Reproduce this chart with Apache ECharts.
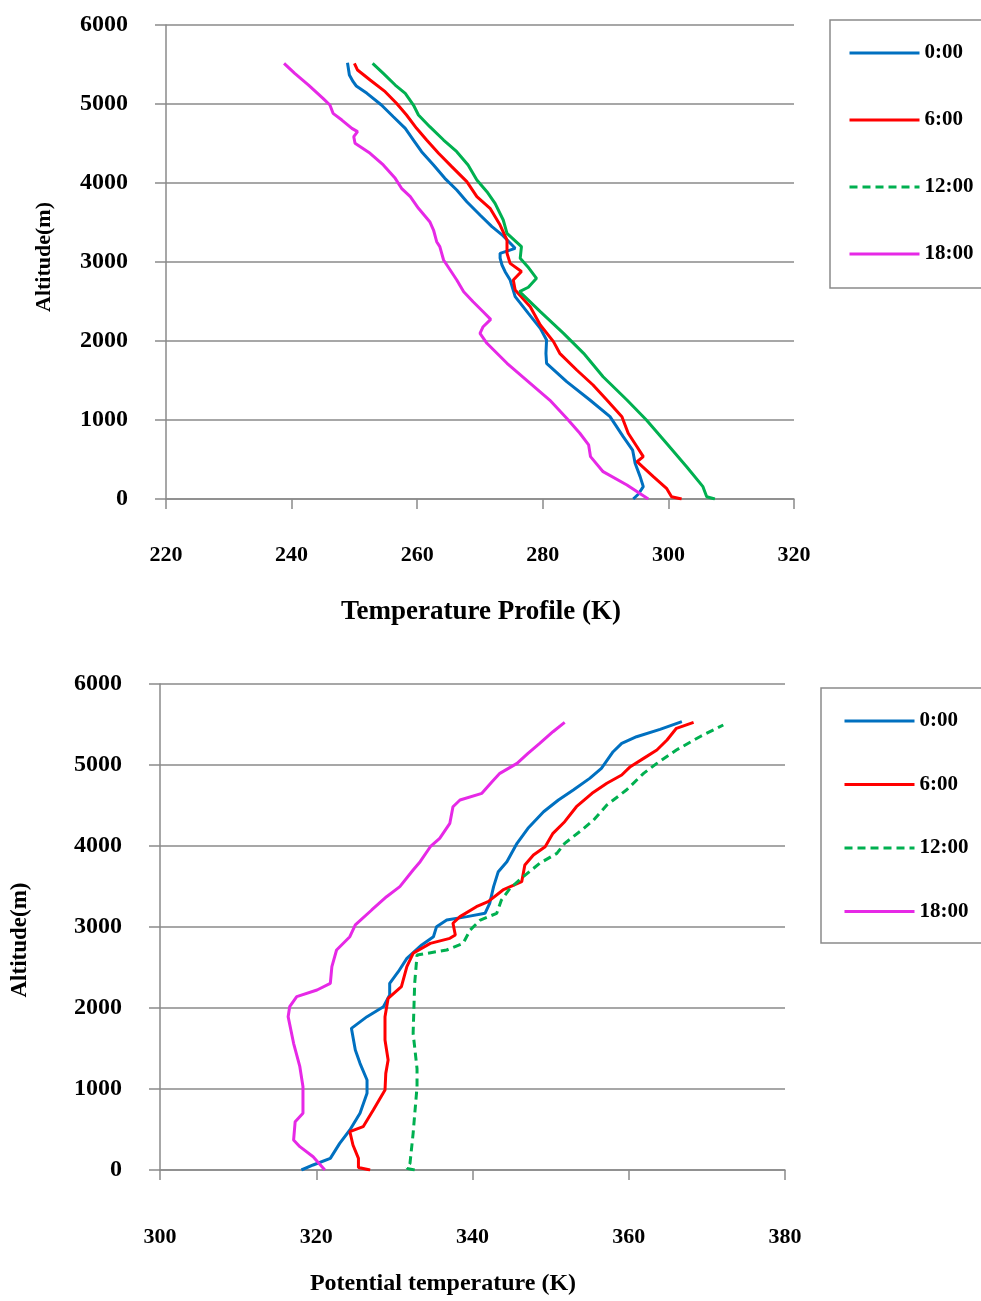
<!DOCTYPE html>
<html>
<head>
<meta charset="utf-8">
<title>Temperature and potential temperature profiles</title>
<script src="https://cdn.jsdelivr.net/npm/echarts@6/dist/echarts.min.js"></script>
<style>
  html, body { margin: 0; padding: 0; background: #fff; }
  #chart { width: 981px; height: 1301px; }
</style>
</head>
<body>
<div id="chart"></div>
<script>
// Profile times shown in both legends
const times = ['0:00', '6:00', '12:00', '18:00'];
const colors = ['#0070C0', '#FF0000', '#00B050', '#E629E6'];

// Axis ranges / tick labels
const altTicks = [0, 1000, 2000, 3000, 4000, 5000, 6000];
const tempTicks = [220, 240, 260, 280, 300, 320];
const thetaTicks = [300, 320, 340, 360, 380];

// Temperature profile, pairs of [T (K), altitude (m)]
const temp0000 = [[294.4,0],[295.2,60],[296.0,156],[295.5,283],[294.7,452],[294.3,620],[292.8,789],[290.7,1042],[287.5,1253],[283.8,1485],[280.6,1718],[280.5,1844],[280.6,2013],[279.6,2160],[277.7,2350],[275.6,2561],[274.8,2772],[274.0,2877],[273.5,2962],[273.2,3050],[273.2,3110],[275.6,3173],[273.7,3330],[271.9,3447],[270.0,3595],[267.9,3763],[266.3,3911],[264.4,4059],[262.6,4228],[260.7,4396],[259.4,4544],[258.1,4692],[256.2,4839],[254.3,4987],[252.0,5135],[250.3,5228],[249.8,5282],[249.2,5367],[248.9,5523]];
const temp0600 = [[302.1,0],[300.5,29],[299.7,135],[297.6,283],[295.0,472],[296.0,536],[295.0,662],[293.6,832],[292.6,1042],[290.2,1253],[288.0,1443],[285.4,1633],[282.7,1844],[281.7,1992],[279.6,2203],[278.0,2434],[275.6,2646],[275.3,2772],[276.6,2880],[274.8,2983],[274.3,3110],[274.3,3278],[273.2,3468],[271.6,3680],[269.5,3827],[267.9,4017],[265.5,4207],[263.4,4376],[261.5,4544],[259.9,4692],[258.3,4861],[256.7,5009],[254.9,5156],[252.5,5304],[250.5,5430],[250.0,5515]];
const temp1200 = [[307.4,0],[306.1,29],[305.5,156],[302.9,409],[299.7,705],[296.5,1000],[293.4,1253],[289.6,1548],[286.5,1844],[283.3,2097],[279.6,2371],[276.3,2624],[277.7,2680],[279.0,2793],[277.6,2941],[276.4,3046],[276.6,3194],[274.3,3363],[273.7,3532],[272.4,3743],[271.1,3890],[269.5,4038],[268.1,4228],[266.3,4396],[264.2,4544],[262.0,4713],[260.2,4861],[259.4,4987],[258.1,5135],[256.5,5240],[254.6,5388],[252.9,5515]];
const temp1800 = [[296.8,0],[293.4,177],[289.6,346],[287.6,536],[287.3,684],[285.9,832],[283.8,1021],[281.1,1253],[277.4,1506],[274.3,1718],[271.1,1971],[270.0,2097],[270.5,2181],[271.7,2274],[270.5,2371],[268.9,2497],[267.4,2624],[266.3,2772],[264.2,3025],[263.6,3194],[263.1,3257],[262.6,3405],[262.0,3510],[260.2,3680],[258.9,3827],[257.5,3933],[256.5,4059],[254.6,4228],[252.5,4376],[250.1,4502],[249.9,4586],[250.5,4650],[249.6,4692],[248.0,4797],[246.6,4882],[246.1,4987],[245.0,5072],[242.7,5240],[240.5,5388],[238.8,5515]];

// Potential temperature profile, pairs of [theta (K), altitude (m)]
const theta0000 = [[318.1,0],[319.6,62],[321.8,144],[323.0,329],[324.3,494],[325.6,700],[326.5,947],[326.5,1111],[325.6,1317],[325.0,1481],[324.5,1749],[326.5,1893],[328.6,2016],[329.4,2160],[329.4,2305],[330.5,2448],[331.6,2613],[333.5,2778],[335.0,2880],[335.4,3004],[336.7,3086],[339.3,3128],[341.6,3169],[342.2,3292],[342.7,3498],[343.3,3683],[344.4,3806],[345.7,4033],[347.1,4218],[349.1,4423],[351.0,4568],[352.9,4691],[355.0,4835],[356.5,4959],[358.0,5164],[359.1,5267],[361.0,5349],[364.0,5440],[366.8,5535]];
const theta0600 = [[326.9,0],[325.4,30],[325.4,144],[324.7,309],[324.3,473],[326.0,535],[327.3,741],[328.8,988],[328.9,1193],[329.2,1358],[328.8,1605],[328.8,1893],[329.2,2119],[330.9,2263],[331.6,2510],[332.4,2675],[334.6,2798],[337.1,2860],[337.8,2901],[337.5,3046],[338.4,3128],[340.5,3251],[342.0,3313],[343.9,3457],[346.3,3559],[346.7,3765],[347.8,3889],[349.3,3991],[350.3,4156],[351.8,4300],[353.3,4485],[355.3,4650],[357.2,4774],[359.1,4876],[360.2,4979],[361.9,5082],[363.6,5185],[364.9,5309],[366.1,5453],[368.3,5527]];
const theta1200 = [[332.6,0],[331.6,20],[332.0,83],[332.4,453],[332.9,1029],[332.9,1250],[332.4,1688],[332.6,2305],[332.9,2654],[336.7,2716],[338.8,2798],[339.7,2963],[341.0,3086],[343.1,3169],[343.7,3333],[344.8,3477],[346.5,3621],[348.6,3786],[350.8,3909],[351.8,4033],[354.0,4198],[355.5,4321],[357.2,4506],[359.7,4691],[361.9,4897],[363.6,5020],[366.1,5185],[369.1,5349],[372.1,5494]];
const theta1800 = [[321.1,0],[319.6,164],[317.9,288],[317.1,370],[317.3,596],[318.3,700],[318.3,1029],[317.9,1275],[317.1,1564],[316.4,1893],[316.6,2016],[317.5,2140],[320.1,2222],[321.8,2305],[322.0,2510],[322.6,2716],[324.3,2880],[325.0,3025],[327.1,3210],[329.0,3374],[330.7,3498],[332.4,3704],[333.3,3806],[334.6,3991],[335.8,4095],[337.1,4280],[337.5,4485],[338.4,4568],[341.2,4650],[342.5,4794],[343.5,4897],[345.7,5020],[347.1,5144],[348.6,5267],[350.3,5411],[351.8,5527]];

const FONT = '"Liberation Serif", "Times New Roman", serif';
const GRAY = '#8a8a8a';
const DASH = [8, 5];

function xAxisFor(gridIndex, ticks) {
  return {
    type: 'value', gridIndex,
    min: ticks[0], max: ticks[ticks.length - 1], interval: ticks[1] - ticks[0],
    axisLine: { show: true, onZero: false, lineStyle: { color: GRAY, width: 1.5 } },
    axisTick: { show: true, inside: false, length: 10, lineStyle: { color: GRAY, width: 1.5 } },
    axisLabel: { color: '#000', fontFamily: FONT, fontWeight: 'bold', fontSize: 22, margin: gridIndex === 0 ? 45 : 56,
                 formatter: v => String(v) },
    splitLine: { show: false }
  };
}
function yAxisFor(gridIndex) {
  return {
    type: 'value', gridIndex,
    min: altTicks[0], max: altTicks[altTicks.length - 1], interval: altTicks[1] - altTicks[0],
    axisLine: { show: true, onZero: false, lineStyle: { color: GRAY, width: 1.5 } },
    axisTick: { show: true, inside: false, length: 11, lineStyle: { color: GRAY, width: 1.5 } },
    axisLabel: { color: '#000', fontFamily: FONT, fontWeight: 'bold', fontSize: 24, margin: 38,
                 formatter: v => String(v) },
    splitLine: { show: true, lineStyle: { color: GRAY, width: 1.5 } }
  };
}
function lineSeries(name, data, idx, dashed) {
  return {
    name, type: 'line', data,
    xAxisIndex: idx, yAxisIndex: idx,
    symbol: 'none', showSymbol: false, smooth: false, animation: false,
    lineStyle: { color: colors[times.indexOf(name)], width: 3, type: dashed ? DASH : 'solid' },
    itemStyle: { color: colors[times.indexOf(name)] }
  };
}
function legendFor(left, top, gap, pad) {
  return {
    orient: 'vertical', left, top,
    padding: pad,
    itemWidth: 70, itemHeight: 14, itemGap: gap,
    borderColor: GRAY, borderWidth: 1.5,
    selectedMode: false,
    textStyle: { color: '#000', fontFamily: FONT, fontWeight: 'bold', fontSize: 21 },
    data: times.map((t, i) => ({
      name: t,
      // plain line key, no marker dot
      itemStyle: { color: 'rgba(0,0,0,0)', borderColor: 'rgba(0,0,0,0)', borderWidth: 0, opacity: 0 },
      lineStyle: { color: colors[i], width: 3, type: t === '12:00' ? DASH : 'solid' }
    }))
  };
}

const chart = echarts.init(document.getElementById('chart'), null, { renderer: 'canvas' });
chart.setOption({
  backgroundColor: '#fff',
  animation: false,
  grid: [
    { left: 166, top: 25, width: 628, height: 474 },
    { left: 160, top: 684, width: 625, height: 486 }
  ],
  xAxis: [xAxisFor(0, tempTicks), xAxisFor(1, thetaTicks)],
  yAxis: [yAxisFor(0), yAxisFor(1)],
  legend: [
    legendFor(830, 20, 46, [22.5, 70, 23.5, 18]),
    legendFor(821, 688, 42.5, [22.5, 70, 21, 22])
  ],
  series: [
    lineSeries('0:00', temp0000, 0),
    lineSeries('6:00', temp0600, 0),
    lineSeries('12:00', temp1200, 0),
    lineSeries('18:00', temp1800, 0),
    lineSeries('0:00', theta0000, 1),
    lineSeries('6:00', theta0600, 1),
    lineSeries('12:00', theta1200, 1, true),
    lineSeries('18:00', theta1800, 1)
  ],
  graphic: [
    { type: 'text', x: 481, y: 612, style: { text: 'Temperature Profile (K)', fill: '#000', font: 'bold 27px ' + FONT, align: 'center', verticalAlign: 'middle' } },
    { type: 'text', x: 443, y: 1284, style: { text: 'Potential temperature (K)', fill: '#000', font: 'bold 24px ' + FONT, align: 'center', verticalAlign: 'middle' } },
    { type: 'text', x: 44, y: 257, rotation: Math.PI / 2, style: { text: 'Altitude(m)', fill: '#000', font: 'bold 22px ' + FONT, align: 'center', verticalAlign: 'middle' } },
    { type: 'text', x: 20, y: 940, rotation: Math.PI / 2, style: { text: 'Altitude(m)', fill: '#000', font: 'bold 23px ' + FONT, align: 'center', verticalAlign: 'middle' } }
  ]
});
</script>
</body>
</html>
